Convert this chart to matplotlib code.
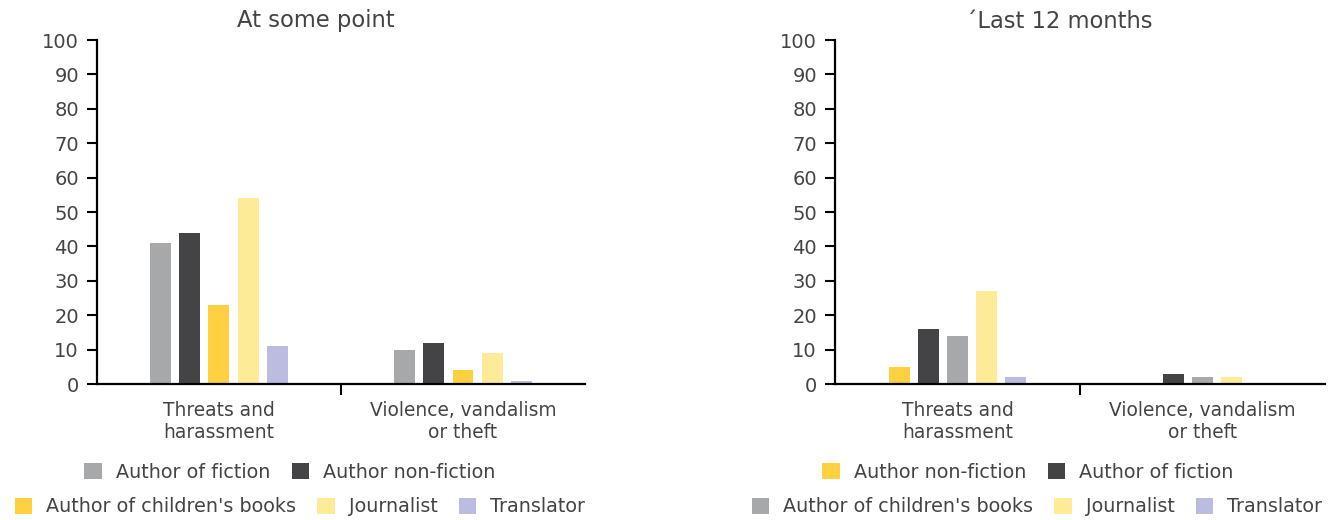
import numpy as np
import matplotlib
matplotlib.use("Agg")
import matplotlib.pyplot as plt
from matplotlib.patches import Patch

plt.rcParams['font.family'] = ['DejaVu Sans']

TEXT = '#444444'

categories = ["Threats and\nharassment", "Violence, vandalism\nor theft"]

# series: (label, colour, [threats, violence])
left_series = [
    ("Author of fiction", '#a7a8a9', [41, 10]),
    ("Author non-fiction", '#444446', [44, 12]),
    ("Author of children's books", '#ffd040', [23, 4]),
    ("Journalist", '#feeb98', [54, 9]),
    ("Translator", '#babde0', [11, 1]),
]
right_series = [
    ("Author non-fiction", '#ffd040', [5, 0]),
    ("Author of fiction", '#444446', [16, 3]),
    ("Author of children's books", '#a7a8a9', [14, 2]),
    ("Journalist", '#feeb98', [27, 2]),
    ("Translator", '#babde0', [2, 0]),
]
yticks = list(range(0, 101, 10))

fig = plt.figure(figsize=(13.43, 5.2), dpi=100)
ax_l = fig.add_axes([0.0722, 0.2615, 0.3634, 0.6615])
ax_r = fig.add_axes([0.6217, 0.2615, 0.3649, 0.6615])

step = 0.119
width = 0.086


def draw_panel(ax, series):
    x = np.arange(len(categories))
    for i, (label, color, vals) in enumerate(series):
        ax.bar(x + (i - 2) * step, vals, width=width, color=color, label=label, zorder=2)
    ax.set_xlim(-0.5, len(categories) - 0.5)
    ax.set_ylim(0, 100)
    ax.set_yticks(yticks)
    ax.set_xticks(x)
    ax.set_xticklabels(categories, fontsize=13.4, color=TEXT, linespacing=1.25)
    ax.set_xticks([0.5], minor=True)
    ax.tick_params(axis='x', which='major', length=0, pad=12)
    ax.tick_params(axis='x', which='minor', length=8, width=1.5, color='black')
    ax.tick_params(axis='y', length=7, width=1.5, color='black', labelsize=14,
                   labelcolor=TEXT, pad=6)
    for s in ('top', 'right'):
        ax.spines[s].set_visible(False)
    for s in ('left', 'bottom'):
        ax.spines[s].set_linewidth(1.6)
        ax.spines[s].set_color('black')


draw_panel(ax_l, left_series)
draw_panel(ax_r, right_series)

fig.text(316 / 1343, 1 - 21 / 520, "At some point", ha='center', va='center',
         fontsize=16.3, color=TEXT)
fig.text(1059 / 1343, 1 - 21 / 520, "\u00b4Last 12 months", ha='center', va='center',
         fontsize=16.3, color=TEXT)


def add_legends(series, c1, c2):
    handles = [Patch(facecolor=c, edgecolor='none', label=l) for l, c, _ in series]
    kw = dict(frameon=False, fontsize=13.8, labelcolor=TEXT, handlelength=0.9,
              handleheight=0.95, handletextpad=0.75, columnspacing=1.1, borderpad=0,
              loc='center')
    fig.legend(handles=handles[:2], ncol=2,
               bbox_to_anchor=(c1 / 1343, 1 - 472 / 520), **kw)
    fig.legend(handles=handles[2:], ncol=3,
               bbox_to_anchor=(c2 / 1343, 1 - 507 / 520), **kw)


add_legends(left_series, 290, 300)
add_legends(right_series, 1028, 1037)

fig.savefig("out.png", dpi=100)
